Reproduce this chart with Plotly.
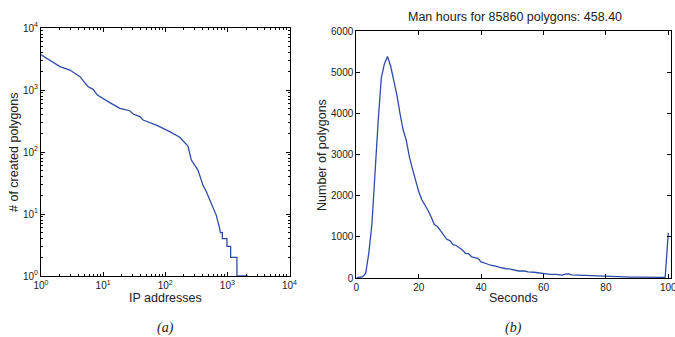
import plotly.graph_objects as go

# ---- Data: panel (a) rank vs. number of created polygons ----
ip_rank = [1, 2.02, 2.92, 4.23, 5.75, 6.9, 8.1, 8.87, 12.8, 18.6, 26.9, 30.4, 38.9, 44, 72,
           118, 171, 232, 263, 336, 405, 457, 661, 750, 770, 830, 830, 985, 985, 1128, 1128,
           1425, 1425, 2140]
polygons_created = [3700, 2380, 2100, 1640, 1130, 1025, 830, 780, 625, 507, 463, 410, 372, 328, 272,
                    213, 173, 125, 74, 51, 29, 23, 9.6, 5.9, 5, 5, 4, 4, 3, 3, 2,
                    2, 1, 1]

# ---- Data: panel (b) histogram of seconds per polygon ----
seconds = [0, 1, 2, 3, 4, 5, 6, 7, 8, 9, 10, 11, 12, 13, 14, 15, 16, 17, 18, 19, 20,
           21, 22, 23, 24, 25, 26, 27, 28, 29, 30, 31, 32, 33, 34, 35, 36, 37, 38, 39, 40,
           41, 42, 43, 44, 45, 46, 47, 48, 49, 50, 52, 54, 55, 57, 59, 60, 62, 64, 66, 67,
           68, 69, 70, 72, 74, 76, 78, 80, 82, 85, 88, 90, 92, 95, 97, 98, 99, 100]
num_polygons = [0, 10, 30, 110, 600, 1300, 2600, 3800, 4850, 5200, 5380, 5150, 4800, 4450, 4000,
                3600, 3350, 2950, 2650, 2350, 2100, 1900, 1780, 1640, 1480, 1300, 1250, 1150,
                1030, 940, 910, 810, 790, 740, 680, 600, 590, 510, 495, 480, 390, 370, 340, 310,
                300, 285, 260, 235, 225, 220, 200, 170, 170, 150, 140, 120, 110, 90, 90, 72, 95,
                100, 75, 72, 55, 50, 42, 38, 30, 25, 24, 22, 20, 16, 12, 8, 10, 15, 1100]

log_tickvals = [1, 10, 100, 1000, 10000]
log_ticktext = ["10<sup>0</sup>", "10<sup>1</sup>", "10<sup>2</sup>", "10<sup>3</sup>", "10<sup>4</sup>"]
log_minor = [m * 10 ** e for e in range(4) for m in range(2, 10)]
lin_x_ticks = [0, 20, 40, 60, 80, 100]
lin_y_ticks = [0, 1000, 2000, 3000, 4000, 5000, 6000]

title_text = "Man hours for 85860 polygons: 458.40"

W, H = 675, 337
LINE = "#2d4ca8"
FONT = "Liberation Sans, Arial, sans-serif"

fig = go.Figure()
fig.add_trace(go.Scatter(x=ip_rank, y=polygons_created, mode="lines",
                         line=dict(color=LINE, width=1.3), xaxis="x", yaxis="y",
                         showlegend=False))
fig.add_trace(go.Scatter(x=seconds, y=num_polygons, mode="lines",
                         line=dict(color=LINE, width=1.3), xaxis="x2", yaxis="y2",
                         showlegend=False))

def px_x(p):
    return p / W

def px_y(p):
    return 1 - p / H

common = dict(showline=True, linecolor="black", linewidth=1, mirror="ticks", ticks="inside",
              ticklen=4, tickcolor="black", showgrid=False, zeroline=False, automargin=False,
              ticklabeloverflow="allow",
              tickfont=dict(family=FONT, size=10, color="#222"))
minor = dict(ticks="inside", ticklen=2, tickcolor="black", tickmode="array",
             tickvals=log_minor, showgrid=False)

fig.update_layout(
    width=W, height=H,
    margin=dict(l=0, r=0, t=0, b=0),
    paper_bgcolor="white", plot_bgcolor="white",
    font=dict(family=FONT, color="#222"),
    xaxis=dict(type="log", domain=[px_x(41), px_x(289.5)], range=[0, 4], anchor="y",
               tickvals=log_tickvals, ticktext=log_ticktext, minor=minor, **common),
    yaxis=dict(type="log", domain=[px_y(276), px_y(28)], range=[0, 4], anchor="x",
               tickvals=log_tickvals, ticktext=log_ticktext, minor=minor, **common),
    xaxis2=dict(domain=[px_x(356.3), px_x(670.7)], range=[0, 100.77], anchor="y2",
                tickvals=lin_x_ticks, **common),
    yaxis2=dict(domain=[px_y(278), px_y(31)], range=[0, 6000], anchor="x2",
                tickvals=lin_y_ticks, **common),
)

ann = [
    dict(text=title_text, x=px_x(515), y=px_y(17), size=12.5, angle=0),
    dict(text="IP addresses", x=px_x(165), y=px_y(298), size=12.5, angle=0),
    dict(text="Seconds", x=px_x(513), y=px_y(298), size=12.5, angle=0),
    dict(text="# of created polygons", x=px_x(14), y=px_y(152), size=12.5, angle=-90),
    dict(text="Number of polygons", x=px_x(322), y=px_y(155), size=12.5, angle=-90),
]
for a in ann:
    fig.add_annotation(text=a["text"], x=a["x"], y=a["y"], xref="paper", yref="paper",
                       showarrow=False, textangle=a["angle"], xanchor="center", yanchor="middle",
                       font=dict(family=FONT, size=a["size"], color="#222"))

for lab, xc in [("(a)", 165), ("(b)", 513)]:
    fig.add_annotation(text="<i>" + lab + "</i>", x=px_x(xc), y=px_y(328), xref="paper",
                       yref="paper", showarrow=False, xanchor="center", yanchor="middle",
                       font=dict(family="Liberation Serif, Times New Roman, serif", size=14,
                                 color="#222"))

fig.write_html("out.html", config={"displayModeBar": False},
               post_script="document.body.style.margin='0';document.body.style.overflow='hidden';")
